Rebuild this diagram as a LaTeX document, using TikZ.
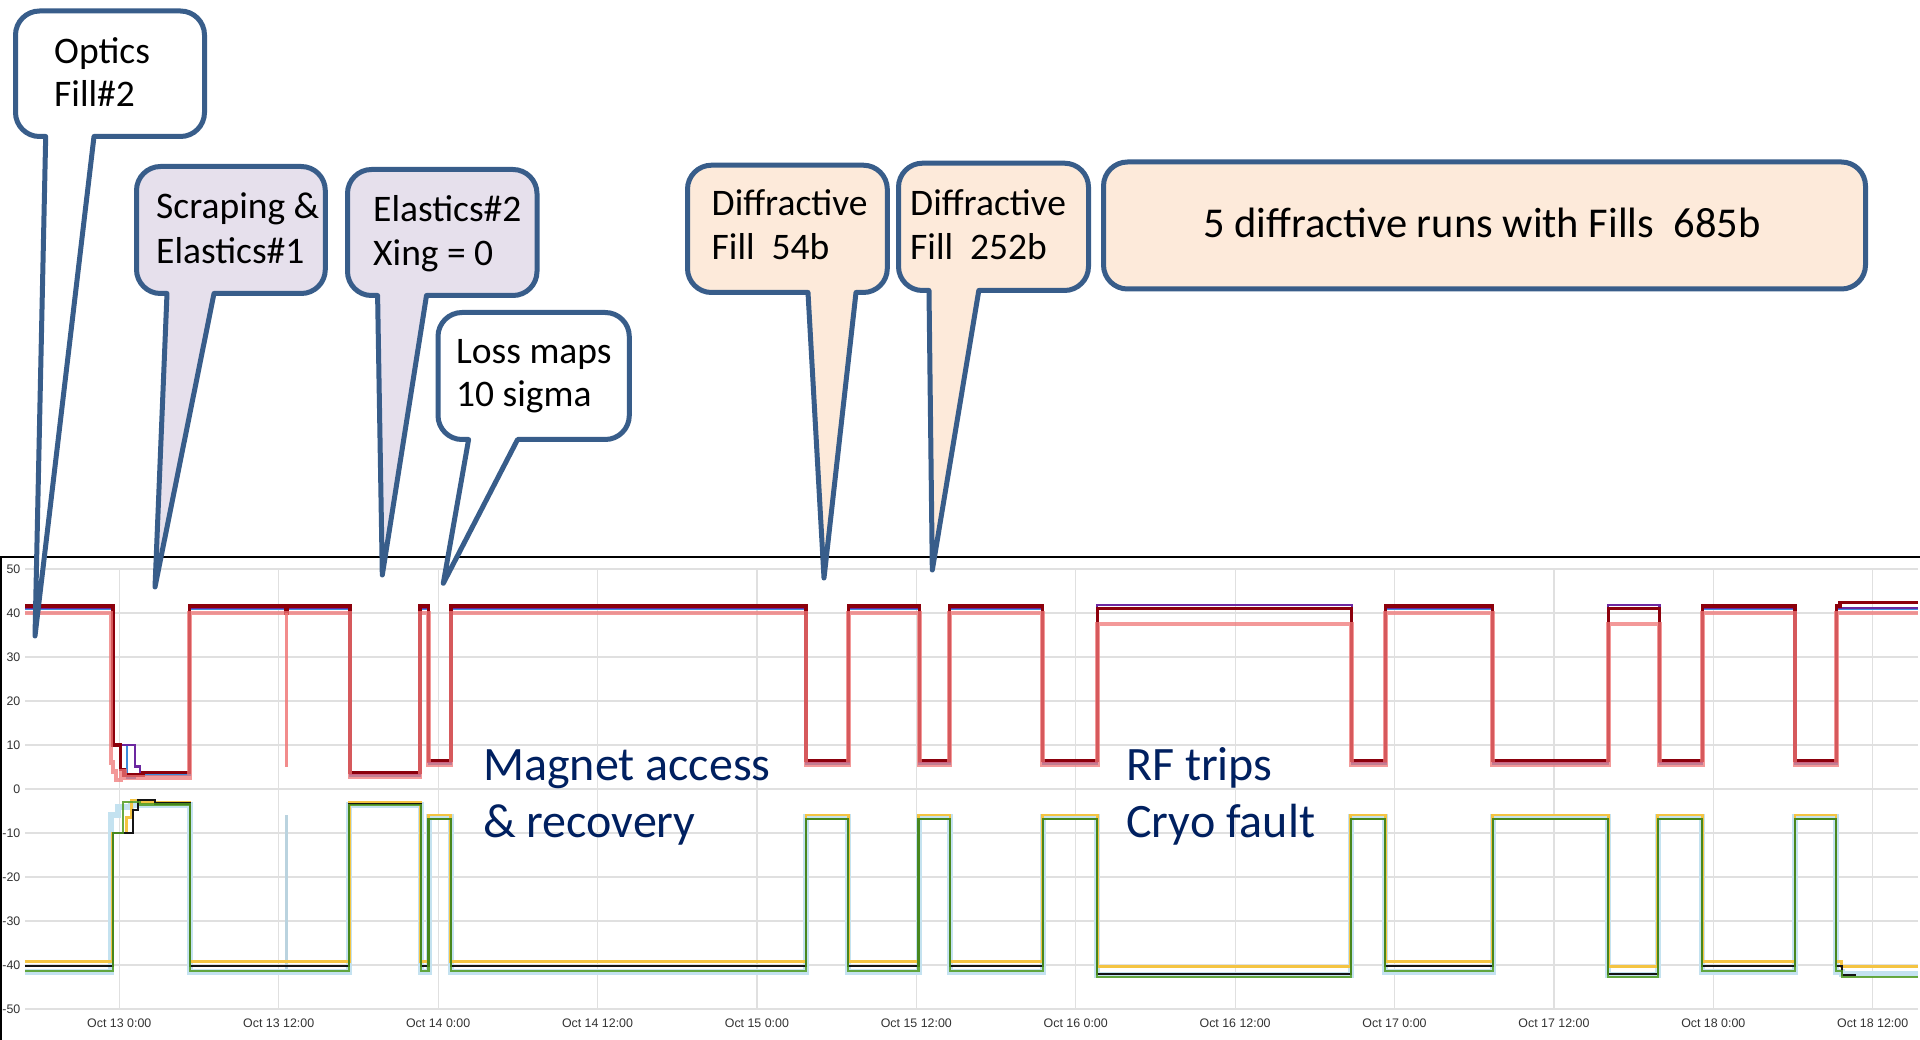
\documentclass[tikz,border=0pt]{standalone}
\usepackage{fontspec}
\setmainfont{Carlito}
\newfontfamily\axisfont{Liberation Sans}

\definecolor{cbline}{RGB}{56,93,138}
\definecolor{lav}{RGB}{230,224,236}
\definecolor{peach}{RGB}{253,234,218}
\definecolor{navy}{RGB}{0,32,96}
\definecolor{gridgray}{RGB}{224,224,224}
\definecolor{axtext}{RGB}{51,51,51}
\definecolor{sDarkRed}{RGB}{140,0,12}
\definecolor{sPurple}{RGB}{108,40,160}
\definecolor{sBlue}{RGB}{60,140,220}
\definecolor{sSalmon}{RGB}{240,120,120}
\definecolor{sYellow}{RGB}{244,196,66}
\definecolor{sBlack}{RGB}{20,20,20}
\definecolor{sGreen}{RGB}{80,156,32}
\definecolor{sLightBlue}{RGB}{196,226,240}

% Rounded box with a wedge pointer hanging from its bottom edge.
% #1 left, #2 top, #3 right, #4 bottom, #5/#6 wedge base x (left/right),
% #7/#8 wedge tip, #9 style
\newcommand\callout[9]{%
  \path[#9] (#5,#4) -- ({#1+24},#4)
    .. controls ({#1+10.75},#4) and (#1,{#4-10.75}) .. (#1,{#4-24})
    -- (#1,{#2+24})
    .. controls (#1,{#2+10.75}) and ({#1+10.75},#2) .. ({#1+24},#2)
    -- ({#3-24},#2)
    .. controls ({#3-10.75},#2) and (#3,{#2+10.75}) .. (#3,{#2+24})
    -- (#3,{#4-24})
    .. controls (#3,{#4-10.75}) and ({#3-10.75},#4) .. ({#3-24},#4)
    -- (#6,#4) -- (#7,#8) -- cycle;}

% Shared on/off pattern of the positive channels after the first fills.
% #1 high, #2 first low, #3 later low, #4 high of the long fills
\newcommand\upperrun[4]{%
  -| (350,#2) -| (420,#1) -| (428.5,#3) -| (451,#1) -| (806,#3)
  -| (848.5,#1) -| (919.3,#3) -| (949.5,#1) -| (1042.7,#3)
  -| (1097.3,#4) -| (1351.7,#3) -| (1385.5,#1) -| (1492.7,#3)
  -| (1608.3,#4) -| (1659.5,#3) -| (1702.3,#1) -| (1795,#3) -| (1836.5,#1)}

% Same pattern for the negative channels.
% #1 low, #2 first high, #3 later high, #4 low of the long fills
\newcommand\lowerrun[4]{%
  -| (349.3,#2) -| (420.7,#1) -| (428.5,#3) -| (450.7,#1) -| (806,#3)
  -| (848.3,#1) -| (918.5,#3) -| (950,#1) -| (1042.7,#3)
  -| (1097.3,#4) -| (1350.7,#3) -| (1385.3,#1) -| (1492.7,#3)
  -| (1608.3,#4) -| (1657.7,#3) -| (1702.3,#1) -| (1795,#3) -| (1836,#1)}

\begin{document}
\begin{tikzpicture}[x=1pt,y=-1pt,
  callout/.style={draw=cbline, line width=5pt, line join=round, fill=#1},
  calltext/.style={anchor=base west, inner sep=0pt, text=black,
    font=\fontsize{37.5}{45}\selectfont},
  bigtext/.style={anchor=base west, inner sep=0pt, text=navy,
    font=\fontsize{48}{57}\selectfont},
  axislabel/.style={inner sep=0pt, text=axtext,
    font=\axisfont\fontsize{12.4}{14}\selectfont},
  gridline/.style={draw=gridgray, line width=1.2pt},
  frame/.style={draw=black, line width=1.6pt},
  chan/.style={line width=#1, line cap=butt},
]
\useasboundingbox (0,0) rectangle (1920,1040);
\fill[white] (0,0) rectangle (1920,1040);

% ---------------- chart ----------------
\begin{scope}[shift={(0,789)}, y=4.4pt]
  \foreach \v in {-50,-40,...,50}
    \draw[gridline] (25,\v) -- (1918,\v);
  \foreach \k in {0,...,11}
    \draw[gridline] ({119.3+\k*159.4},-50) -- ({119.3+\k*159.4},50);

  \foreach \v in {-50,-40,...,50}
    \node[axislabel, anchor=east] (yl\v) at (20.5,\v) {\v};

  \foreach \k/\lab in {0/Oct 13 0:00, 1/Oct 13 12:00, 2/Oct 14 0:00,
      3/Oct 14 12:00, 4/Oct 15 0:00, 5/Oct 15 12:00, 6/Oct 16 0:00,
      7/Oct 16 12:00, 8/Oct 17 0:00, 9/Oct 17 12:00, 10/Oct 18 0:00,
      11/Oct 18 12:00}
    \node[axislabel] (xl\k) at ({119.3+\k*159.4},-53.3) {\lab};

  % negative channels
  \draw[chan=6pt, sLightBlue]
    (25,-41.7) -| (111,-6) -| (118,-4.2) -| (131,-3.6) -| (190,-41.7)
    \lowerrun{-41.7}{-3.6}{-6.4}{-42.3} -| (1841.7,-42) -- (1918,-42);
  \draw[chan=2.2pt, sLightBlue!85!gray] (286.5,-41) -- (286.5,-6);
  \draw[chan=2.8pt, sYellow]
    (25,-39.2) -| (112.5,-10) -| (126.5,-6.5) -| (131.7,-2.5) -| (140,-3.0)
    -| (190,-39.2)
    \lowerrun{-39.2}{-3.0}{-5.9}{-40.4} -| (1841.7,-40.4) -- (1918,-40.4);
  \draw[chan=2.2pt, sBlack]
    (25,-40.3) -| (113,-10) -| (133.3,-4.8) -| (138.3,-2.5) -| (155,-3.3)
    -| (190,-40.3)
    \lowerrun{-40.3}{-3.4}{-6.8}{-42.1} -| (1841.7,-42.2) -- (1856,-42.2);
  \draw[chan=2.2pt, sGreen, opacity=0.85]
    (25,-41.4) -| (113.3,-10) -| (123.3,-3.0) -| (140,-3.5) -| (190,-41.4)
    \lowerrun{-41.4}{-3.6}{-6.8}{-42.7} -| (1841.7,-42.8) -- (1918,-42.8);

  % positive channels
  \draw[chan=2pt, sBlue]
    (25,40.8) -| (113,10) -| (126.7,2.6) -| (135,3.2) -| (189.5,40.8)
    \upperrun{40.8}{3.0}{5.6}{40.8} -- (1918,40.8);
  \draw[chan=2.2pt, sPurple]
    (25,41.1) -| (113,10) -| (135,5.1) -| (140,3.6) -| (189.5,41.1)
    \upperrun{41.1}{3.5}{6.2}{41.8} -- (1918,41.1);
  \draw[chan=3.2pt, sDarkRed]
    (25,41.6) -| (113,10) -| (120.7,4.5) -| (124,3.2) -| (143,3.7)
    -| (189.5,41.6) -| (285.5,40) -| (287.5,41.6)
    \upperrun{41.6}{3.7}{6.4}{41.1} -| (1840,42.3) -- (1918,42.3);
  \draw[chan=4.5pt, sSalmon, opacity=0.75]
    (25,40) -| (111,6) -| (113,4) -| (116,2) -| (121,4) -| (125,2.6)
    -| (189.5,40)
    \upperrun{40}{2.8}{5.6}{37.5} -- (1918,40);
  \draw[chan=2.4pt, sSalmon, opacity=0.85] (286.5,40) -- (286.5,5);
\end{scope}

\draw[frame] (0,557) -- (1920,557);
\draw[frame] (0.8,557) -- (0.8,1040);

% ---------------- run notes ----------------
\node[bigtext] (magnet1) at (483,780) {Magnet access};
\node[bigtext] (magnet2) at (483,837) {\& recovery};
\node[bigtext] (rf1) at (1126,780) {RF trips};
\node[bigtext] (rf2) at (1126,837) {Cryo fault};

% ---------------- callouts ----------------
\callout{15.5}{11}{204.5}{136.5}{45.7}{94}{35}{636}{callout=white}
\node[calltext] (optics1) at (54,64) {Optics};
\node[calltext] (optics2) at (54,107) {Fill\#2};

\callout{136.5}{166.5}{325.3}{293.5}{167}{214}{155}{587}{callout=lav}
\node[calltext] (scrap1) at (156,219) {Scraping \&};
\node[calltext] (scrap2) at (156,264) {Elastics\#1};

\callout{347.5}{169.5}{537}{295.5}{377.6}{426.5}{382.3}{575}{callout=lav}
\node[calltext] (elast1) at (373,221.5) {Elastics\#2};
\node[calltext] (elast2) at (373,266) {Xing = 0};

\callout{438}{312.5}{629.3}{439.5}{468.6}{517.6}{443.3}{583.3}{callout=white}
\node[calltext] (loss1) at (456,364) {Loss maps};
\node[calltext] (loss2) at (456,407) {10 sigma};

\callout{687.5}{165.2}{887.3}{292.5}{808}{856}{824}{578}{callout=peach}
\node[calltext] (diffa1) at (711.5,216) {Diffractive};
\node[calltext] (diffa2) at (711.5,260) {Fill~~54b};

\callout{898.5}{163.2}{1088.5}{290.5}{929}{978.8}{932.3}{570}{callout=peach}
\node[calltext] (diffb1) at (910,216) {Diffractive};
\node[calltext] (diffb2) at (910,260) {Fill~~252b};

\draw[callout=peach, rounded corners=24pt] (1103.5,162) rectangle (1865.5,289);
\node[calltext, anchor=base, font=\fontsize{42.5}{50}\selectfont]
  (runs) at (1482,237.5) {5 diffractive runs with Fills~~685b};
\end{tikzpicture}
\end{document}
